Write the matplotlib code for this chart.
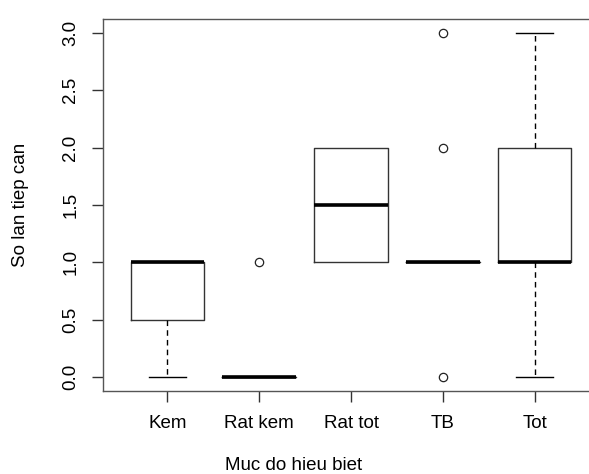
import matplotlib.pyplot as plt

# boxplot stats (R-style hinges)
groups = ["Kem", "Rat kem", "Rat tot", "TB", "Tot"]
whislo = [0.0, 0.0, 1.0, 1.0, 0.0]
q1 = [0.5, 0.0, 1.0, 1.0, 1.0]
med = [1.0, 0.0, 1.5, 1.0, 1.0]
q3 = [1.0, 0.0, 2.0, 1.0, 2.0]
whishi = [1.0, 0.0, 2.0, 1.0, 3.0]
outliers = [[], [1.0], [], [0.0, 2.0, 3.0], []]

yticks = [0.0, 0.5, 1.0, 1.5, 2.0, 2.5, 3.0]

plt.rcParams['font.family'] = ['Liberation Sans', 'DejaVu Sans']

stats = []
for i, g in enumerate(groups):
    stats.append(dict(label=g, whislo=whislo[i], q1=q1[i], med=med[i],
                      q3=q3[i], whishi=whishi[i], fliers=outliers[i]))

fig = plt.figure(figsize=(5.89, 4.74), dpi=100)
ax = fig.add_axes([103 / 589, 1 - 391 / 474, 496 / 589, 372 / 474])

parts = ax.bxp(stats, positions=range(1, len(groups) + 1), widths=0.8,
               boxprops=dict(color='#333333', linewidth=1.0),
               medianprops=dict(color='black', linewidth=2.6, solid_capstyle='butt'),
               whiskerprops=dict(color='black', linewidth=1.0, linestyle=(0, (4, 3))),
               capprops=dict(color='black', linewidth=1.0),
               capwidths=0.4,
               flierprops=dict(marker='o', markerfacecolor='none', markeredgecolor='#222222',
                               markersize=6, markeredgewidth=0.9))

# like R: no whisker/cap drawn when the whisker has zero length
for i in range(len(groups)):
    if whislo[i] == q1[i]:
        parts['caps'][2 * i].set_visible(False)
        parts['whiskers'][2 * i].set_visible(False)
    if whishi[i] == q3[i]:
        parts['caps'][2 * i + 1].set_visible(False)
        parts['whiskers'][2 * i + 1].set_visible(False)

ax.set_xlim(0.3, 5.7)
ax.set_ylim(-0.12, 3.12)
ax.set_yticks(yticks)
ax.set_yticklabels([f"{v:.1f}" for v in yticks], rotation=90, va='center')
ax.tick_params(axis='both', labelsize=13.5, length=8, width=1.0, color='#333333')
ax.tick_params(axis='x', pad=9)
ax.tick_params(axis='y', pad=9)
for s in ax.spines.values():
    s.set_color('#555555')
    s.set_linewidth(1.0)

ax.set_xlabel("Muc do hieu biet", fontsize=13.5)
ax.xaxis.label.set_va('center')
ax.xaxis.set_label_coords((294 - 103) / 496, (391 - 466) / 372)
ax.set_ylabel("So lan tiep can", fontsize=13.5)
ax.yaxis.label.set_va('center')
ax.yaxis.set_label_coords((20 - 103) / 496, (391 - 205) / 372)

fig.savefig("out.png", dpi=100)
